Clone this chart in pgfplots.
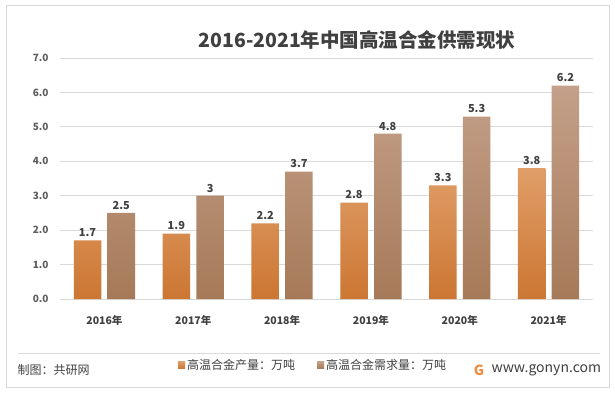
\documentclass[border=0pt]{standalone}
\usepackage{fontspec}
\setmainfont{Noto Sans CJK SC}
\usepackage{pgfplots}
\pgfplotsset{compat=1.18}
\definecolor{prodTop}{HTML}{E09E68}
\definecolor{prodBot}{HTML}{CC7632}
\definecolor{demTop}{HTML}{C4A08A}
\definecolor{demBot}{HTML}{A67A58}
\definecolor{txt}{HTML}{404040}
\definecolor{gridc}{HTML}{D9D9D9}
\definecolor{logo}{HTML}{F08C3C}
\begin{document}
\begin{tikzpicture}[x=1pt,y=1pt]
\useasboundingbox (0pt,0pt) rectangle (615pt,392pt);
\fill[white] (0pt,0pt) rectangle (615pt,392pt);
\draw[gridc, line width=0.9pt] (6pt,5pt) rectangle (609pt,387pt);
\node[font=\bfseries\fontsize{19.5}{22}\selectfont, text=txt] at (357pt,352pt) {2016-2021年中国高温合金供需现状};
\begin{axis}[at={(60pt,93pt)}, anchor=south west, scale only axis,
  width=533pt, height=241pt,
  ymin=0, ymax=7, ytick={0,1,...,7},
  xmin=-0.5, xmax=5.5, xtick={0,...,5},
  xticklabels={2016年,2017年,2018年,2019年,2020年,2021年},
  ymajorgrids, grid style={gridc, line width=0.8pt},
  axis line style={draw=none}, major tick length=0pt,
  /pgf/number format/assume math mode=true,
  yticklabel={\pgfmathprintnumber[fixed,fixed zerofill,precision=1]{\tick}},
  yticklabel style={font=\bfseries\fontsize{10}{12}\selectfont, text=txt!85, xshift=-8pt},
  xticklabel style={font=\bfseries\fontsize{10.5}{12}\selectfont, text=txt, yshift=-13pt},
  nodes near coords,
  every node near coord/.append style={font=\bfseries\fontsize{11}{12}\selectfont, text=txt},
  legend style={at={(0.475,-0.274)}, anchor=center, draw=none, fill=none,
     legend columns=2, font=\fontsize{12}{13}\selectfont, text=txt,
     /tikz/every even column/.append style={column sep=20pt}},
  legend image code/.code={\fill[#1] (0pt,-3.5pt) rectangle (7pt,3.5pt);},
  clip=false,
]
\addplot[ybar, bar width=0.31, bar shift=-0.19, draw=none, top color=prodTop, bottom color=prodBot,
  every node near coord/.append style={xshift=-16.9pt}]
  coordinates {(0,1.7) (1,1.9) (2,2.2) (3,2.8) (4,3.3) (5,3.8)};
\addlegendentry{高温合金产量：万吨}
\addplot[ybar, bar width=0.31, bar shift=0.19, draw=none, top color=demTop, bottom color=demBot,
  every node near coord/.append style={xshift=16.9pt}]
  coordinates {(0,2.5) (1,3) (2,3.7) (3,4.8) (4,5.3) (5,6.2)};
\addlegendentry{高温合金需求量：万吨}
\end{axis}
\draw[gridc, line width=0.8pt] (18pt,39pt) -- (600pt,39pt);
\node[anchor=west, font=\fontsize{12}{14}\selectfont, text=txt] at (14pt,22pt) {制图：共研网};
\node[font=\bfseries\fontsize{14}{14}\selectfont, text=logo] at (479pt,22pt) {G};
\node[anchor=west, font=\fontsize{14}{16}\selectfont, text=txt] at (488pt,22pt) {www.gonyn.com};
\end{tikzpicture}
\end{document}
